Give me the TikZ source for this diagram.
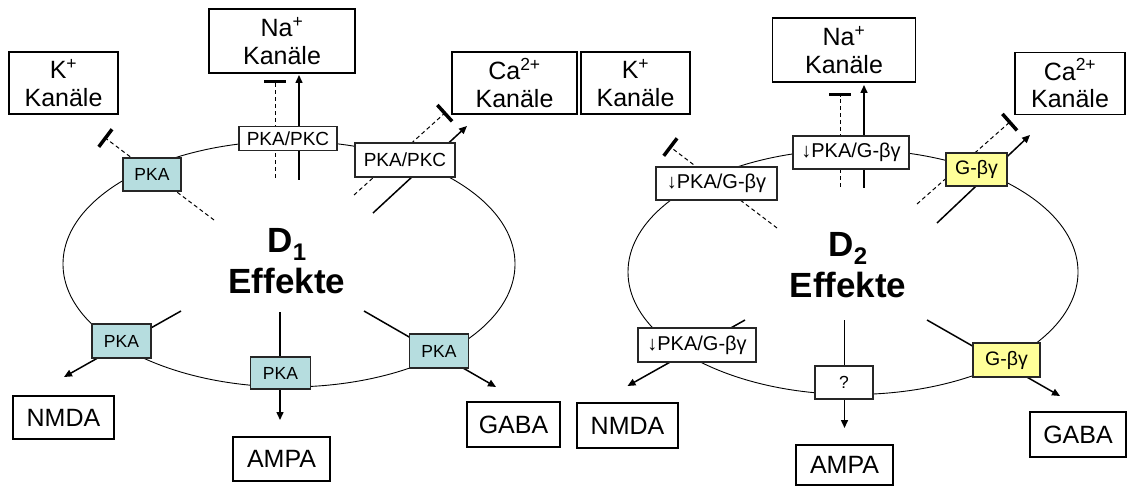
\documentclass[tikz,border=0pt]{standalone}
\usepackage{fontspec}
\setmainfont{Liberation Sans}
\usetikzlibrary{arrows.meta}
\definecolor{pkablue}{HTML}{B6DDDF}
\definecolor{gyellow}{HTML}{FFFF99}
\newcommand{\dsub}[1]{\raisebox{-8pt}{\fontsize{24}{24}\selectfont #1}}
\begin{document}
\begin{tikzpicture}[x=1pt,y=-1pt,
  chan/.style={draw, line width=1.2pt, fill=white, inner sep=0pt, align=center, font=\fontsize{25}{28}\selectfont},
  kin/.style={draw=black!85, line width=1.1pt, inner sep=0pt, align=center, font=\fontsize{19}{21}\selectfont},
  pkabox/.style={kin, fill=pkablue, font=\fontsize{17.5}{19}\selectfont},
  gbox/.style={kin, fill=gyellow, font=\fontsize{19.5}{21}\selectfont},
  wbox/.style={kin, fill=white},
  dbox/.style={kin, fill=white, font=\fontsize{20}{22}\selectfont},
  memb/.style={line width=0.9pt},
  act/.style={line width=1.5pt, -{Triangle[length=8pt,width=7pt]}},
  inh/.style={line width=1pt, dash pattern=on 4pt off 3pt, -{Bar[width=22pt,line width=3.5pt]}},
  lbl/.style={font=\fontsize{35}{38}\selectfont\bfseries, anchor=base}
]
\useasboundingbox (0,0) rectangle (1134,486);

% ---------------- left diagram: D1 ----------------
\draw[memb] (289,264) ellipse [x radius=226pt, y radius=123pt];

\coordinate (k1s) at (214,220); \coordinate (k1e) at (104,137);
\coordinate (na1is) at (275,178); \coordinate (na1ie) at (275,80);
\coordinate (na1as) at (299,180); \coordinate (na1ae) at (299,75);
\coordinate (ca1is) at (354,195); \coordinate (ca1ie) at (446,112);
\coordinate (ca1as) at (373,213); \coordinate (ca1ae) at (467,126);
\coordinate (nm1s) at (181,311); \coordinate (nm1e) at (64,377);
\coordinate (am1s) at (280,312); \coordinate (am1e) at (280,420);
\coordinate (ga1s) at (364,311); \coordinate (ga1e) at (496,387);

\draw[inh] (k1s) -- (k1e);
\draw[inh] (na1is) -- (na1ie);
\draw[act] (na1as) -- (na1ae);
\draw[inh] (ca1is) -- (ca1ie);
\draw[act] (ca1as) -- (ca1ae);
\draw[act] (nm1s) -- (nm1e);
\draw[act] (am1s) -- (am1e);
\draw[act] (ga1s) -- (ga1e);

\node[chan, minimum width=109pt, minimum height=62pt] (k1) at (63.5,83) {K\textsuperscript{+}\\Kanäle};
\node[chan, minimum width=146pt, minimum height=64pt] (na1) at (282,41) {Na\textsuperscript{+}\\Kanäle};
\node[chan, minimum width=125pt, minimum height=62pt] (ca1) at (514.5,83) {Ca\textsuperscript{2+}\\Kanäle};

\node[pkabox, minimum width=58pt, minimum height=33pt] (p1) at (152,174.5) {PKA};
\node[wbox, minimum width=98pt, minimum height=24pt] (p2) at (288,138.5) {PKA/PKC};
\node[wbox, minimum width=100pt, minimum height=34pt] (p3) at (405,160) {PKA/PKC};
\node[pkabox, minimum width=59pt, minimum height=34pt] (p4) at (121.5,341) {PKA};
\node[pkabox, minimum width=60pt, minimum height=32pt] (p5) at (280.5,373) {PKA};
\node[pkabox, minimum width=59pt, minimum height=34pt] (p6) at (439,351) {PKA};

\node[chan, minimum width=101pt, minimum height=43pt] (nm1) at (63.5,417.5) {NMDA};
\node[chan, minimum width=97pt, minimum height=44pt] (am1) at (281.5,459) {AMPA};
\node[chan, minimum width=93pt, minimum height=45pt] (ga1) at (513.5,424.5) {GABA};

\node[lbl] (d1) at (287,252) {D\dsub{1}};
\node[lbl] (e1) at (287,293) {Effekte};

% ---------------- right diagram: D2 ----------------
\draw[memb] (853,272) ellipse [x radius=225pt, y radius=122.5pt];

\coordinate (k2s) at (777,228); \coordinate (k2e) at (669,146);
\coordinate (na2is) at (840,187); \coordinate (na2ie) at (840,93);
\coordinate (na2as) at (864,188); \coordinate (na2ae) at (864,85);
\coordinate (ca2is) at (917,204); \coordinate (ca2ie) at (1011,121);
\coordinate (ca2as) at (937,223); \coordinate (ca2ae) at (1030,135);
\coordinate (nm2s) at (745,320); \coordinate (nm2e) at (627.5,386);
\coordinate (am2s) at (844.5,320); \coordinate (am2e) at (844.5,428);
\coordinate (ga2s) at (927,320); \coordinate (ga2e) at (1060,396);

\draw[inh] (k2s) -- (k2e);
\draw[inh] (na2is) -- (na2ie);
\draw[act] (na2as) -- (na2ae);
\draw[inh] (ca2is) -- (ca2ie);
\draw[act] (ca2as) -- (ca2ae);
\draw[act] (nm2s) -- (nm2e);
\draw[act] (am2s) -- (am2e);
\draw[act] (ga2s) -- (ga2e);

\node[chan, minimum width=109pt, minimum height=62pt] (k2) at (635.5,83) {K\textsuperscript{+}\\Kanäle};
\node[chan, minimum width=143pt, minimum height=64pt] (na2) at (844,50) {Na\textsuperscript{+}\\Kanäle};
\node[chan, minimum width=110pt, minimum height=62pt] (ca2) at (1070,83.5) {Ca\textsuperscript{2+}\\Kanäle};

\node[dbox, minimum width=121pt, minimum height=33pt] (q1) at (716.5,183.5) {↓PKA/G-βγ};
\node[dbox, minimum width=116pt, minimum height=33pt] (q2) at (851,152.5) {↓PKA/G-βγ};
\node[gbox, minimum width=61pt, minimum height=33pt] (q3) at (976.5,169.5) {G-βγ};
\node[dbox, minimum width=118pt, minimum height=34pt] (q4) at (697,345) {↓PKA/G-βγ};
\node[wbox, minimum width=58pt, minimum height=33pt, font=\fontsize{17.5}{19}\selectfont] (q5) at (844,382.5) {?};
\node[gbox, minimum width=67pt, minimum height=34pt] (q6) at (1006.5,360) {G-βγ};

\node[chan, minimum width=101pt, minimum height=45pt] (nm2) at (627.5,425.5) {NMDA};
\node[chan, minimum width=97pt, minimum height=40pt] (am2) at (844.5,465) {AMPA};
\node[chan, minimum width=96pt, minimum height=45pt] (ga2) at (1078,434.5) {GABA};

\node[lbl] (d2) at (848,256) {D\dsub{2}};
\node[lbl] (e2) at (848,297) {Effekte};
\end{tikzpicture}
\end{document}
